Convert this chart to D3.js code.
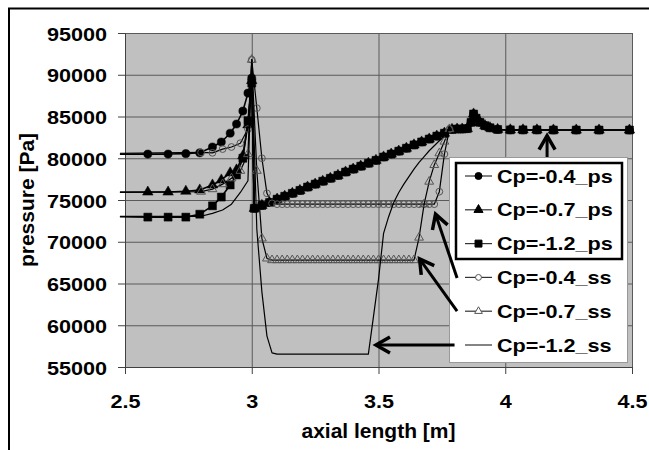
<!DOCTYPE html>
<html>
<head>
<meta charset="utf-8">
<script src="https://cdn.jsdelivr.net/npm/d3@7"></script>
<style>
body { margin: 0; background: #fff; }
svg { display: block; }
</style>
</head>
<body>
<div id="chart-area"></div>
<script>
// ---- data ----
var xTicks = [2.5, 3, 3.5, 4, 4.5];
var yTicks = [55000, 60000, 65000, 70000, 75000, 80000, 85000, 90000, 95000];

// pressure side: inlet part (own per Cp), blade + outlet part shared
var psInletX = [2.48, 2.59, 2.67, 2.74, 2.795, 2.845, 2.88, 2.915, 2.94, 2.965, 2.985, 3.0];
var cp04PsInlet = [80500, 80500, 80500, 80550, 80650, 81350, 81950, 83000, 84100, 85650, 87800, 89600];
var cp07PsInlet = [75950, 75950, 75950, 76050, 76200, 76800, 77400, 78250, 78600, 80300, 84000, 89300];
var cp12PsInlet = [73000, 72950, 72950, 72950, 73300, 74300, 75350, 76800, 78000, 80000, 84500, 89000];

var psBladeX = [3.01, 3.04, 3.07, 3.10, 3.13, 3.16, 3.19, 3.22, 3.25, 3.28, 3.31, 3.34, 3.37, 3.40,
                3.43, 3.46, 3.49, 3.52, 3.55, 3.58, 3.61, 3.64, 3.67, 3.70, 3.73, 3.76, 3.79];
var psBladeY = [74000, 74350, 74700, 75100, 75450, 75800, 76150, 76550, 76900, 77250, 77600, 77950, 78350, 78700,
                79050, 79400, 79750, 80150, 80500, 80850, 81200, 81600, 81950, 82300, 82650, 83000, 83450];
var psOutletX = [3.81, 3.83, 3.85, 3.865, 3.875, 3.885, 3.90, 3.92, 3.94, 3.97, 4.02, 4.07, 4.125, 4.19, 4.28, 4.37, 4.49];
var psOutletY = [83500, 83500, 83550, 84300, 85300, 84800, 84300, 83900, 83650, 83450, 83400, 83400, 83400, 83380, 83380, 83380, 83380];

// suction side
var ssInletX = [2.48, 2.80, 2.845, 2.885, 2.92, 2.955, 2.985, 3.0];
var cp04SsInlet = [80600, 80700, 80650, 81100, 81350, 81800, 83500, 91800];
var cp07SsInlet = [75900, 76000, 76300, 76900, 77600, 78500, 80500, 91800];
var cp12SsInlet = [73050, 73050, 73400, 73800, 74500, 75900, 77300, 91800];

var ssBladeX = [3.02, 3.04, 3.06, 3.08, 3.10, 3.12, 3.14, 3.16, 3.18, 3.20, 3.22, 3.24, 3.26,
                3.28, 3.30, 3.32, 3.34, 3.36, 3.38, 3.40, 3.42, 3.44, 3.46, 3.48, 3.50, 3.52,
                3.54, 3.56, 3.58, 3.60, 3.62, 3.64, 3.66, 3.68, 3.70, 3.72, 3.74, 3.76, 3.78];
var cp04SsBlade = [86000, 80000, 75800, 74600, 74500, 74500, 74500, 74500, 74500, 74500, 74500, 74500, 74500,
                   74500, 74500, 74500, 74500, 74500, 74500, 74500, 74500, 74500, 74500, 74500, 74500, 74500,
                   74500, 74500, 74500, 74500, 74500, 74500, 74500, 74500, 74500, 74500, 76000, 80500, 83500];
var cp07SsBlade = [78500, 70400, 68000, 67800, 67800, 67800, 67800, 67800, 67800, 67800, 67800, 67800, 67800,
                   67800, 67800, 67800, 67800, 67800, 67800, 67800, 67800, 67800, 67800, 67800, 67800, 67800,
                   67800, 67800, 67800, 67800, 67800, 67800, 70500, 74500, 77200, 79200, 80600, 82000, 83500];
var cp12SsBlade = [71500, 64000, 58700, 56700, 56550, 56550, 56550, 56550, 56550, 56550, 56550, 56550, 56550,
                   56550, 56550, 56550, 56550, 56550, 56550, 56550, 56550, 56550, 56550, 61000, 65500, 71000,
                   73000, 74700, 75900, 76900, 77800, 78700, 79500, 80200, 80900, 81500, 82100, 82700, 83500];

var seriesNames = ["Cp=-0.4_ps", "Cp=-0.7_ps", "Cp=-1.2_ps", "Cp=-0.4_ss", "Cp=-0.7_ss", "Cp=-1.2_ss"];

// arrows: [tailX, tailY, tipX, tipY] in data units
var arrows = [
    [4.165, 80150, 4.165, 82700],
    [3.81, 65660, 3.725, 73300],
    [3.81, 61700, 3.662, 67950],
    [3.80, 57630, 3.49, 57630]
];

// ---- layout ----
var W = 649, H = 450;
var plotL = 125, plotR = 632, plotT = 33, plotB = 367;
var stretch = "scale(1.2,1)";

var svg = d3.select("#chart-area").append("svg")
    .attr("width", W)
    .attr("height", H);

svg.append("rect")
    .attr("x", 9).attr("y", 8.5)
    .attr("width", 700).attr("height", 500)
    .attr("fill", "#fff")
    .attr("stroke", "#000")
    .attr("stroke-width", 2);

var x = d3.scaleLinear().domain([2.5, 4.5]).range([plotL, plotR]);
var y = d3.scaleLinear().domain([55000, 95000]).range([plotB, plotT]);

svg.append("rect")
    .attr("x", plotL).attr("y", plotT)
    .attr("width", plotR - plotL).attr("height", plotB - plotT)
    .attr("fill", "#c0c0c0");

// grid
svg.append("g")
    .attr("class", "grid")
    .attr("transform", "translate(" + plotL + ",0)")
    .call(d3.axisLeft(y).tickValues(yTicks).tickSize(-(plotR - plotL)).tickFormat(""))
    .call(function(g) {
        g.select(".domain").remove();
        g.selectAll("line").attr("stroke", "#5a5a5a");
    });
svg.append("g")
    .attr("class", "grid")
    .attr("transform", "translate(0," + plotB + ")")
    .call(d3.axisBottom(x).tickValues(xTicks).tickSize(-(plotB - plotT)).tickFormat(""))
    .call(function(g) {
        g.select(".domain").remove();
        g.selectAll("line").attr("stroke", "#5a5a5a");
    });

// axes
var yAxisCall = d3.axisLeft(y).tickValues(yTicks).tickSizeOuter(0).tickSize(7)
    .tickFormat(function(d) { return d; });
svg.append("g")
    .attr("class", "y axis")
    .attr("transform", "translate(" + plotL + ",0)")
    .call(yAxisCall)
    .call(function(g) {
        g.select(".domain").attr("stroke", "#404040");
        g.selectAll("line").attr("stroke", "#404040");
        g.selectAll("text")
            .attr("x", 0).attr("dy", 0)
            .attr("transform", "translate(-18,7) " + stretch)
            .attr("text-anchor", "end")
            .attr("font-family", "Liberation Sans, Arial, sans-serif")
            .attr("font-weight", "bold")
            .attr("font-size", "18px")
            .attr("fill", "#000");
    });

var xAxisCall = d3.axisBottom(x).tickValues(xTicks).tickSizeOuter(0).tickSize(7)
    .tickFormat(function(d) { return d; });
svg.append("g")
    .attr("class", "x axis")
    .attr("transform", "translate(0," + plotB + ")")
    .call(xAxisCall)
    .call(function(g) {
        g.select(".domain").attr("stroke", "#404040");
        g.selectAll("line").attr("stroke", "#404040");
        g.selectAll("text")
            .attr("y", 0).attr("dy", 0)
            .attr("transform", "translate(0,41) " + stretch)
            .attr("font-family", "Liberation Sans, Arial, sans-serif")
            .attr("font-weight", "bold")
            .attr("font-size", "18px")
            .attr("fill", "#000");
    });

svg.append("text")
    .attr("x", (plotL + plotR) / 2)
    .attr("y", 438)
    .attr("text-anchor", "middle")
    .attr("font-family", "Liberation Sans, Arial, sans-serif")
    .attr("font-weight", "bold")
    .attr("font-size", "21px")
    .text("axial length [m]");

svg.append("text")
    .attr("transform", "translate(34," + ((plotT + plotB) / 2) + ") rotate(-90)")
    .attr("text-anchor", "middle")
    .attr("font-family", "Liberation Sans, Arial, sans-serif")
    .attr("font-weight", "bold")
    .attr("font-size", "21px")
    .text("pressure [Pa]");

// ---- series ----
function zip(xs, ys) {
    return xs.map(function(v, i) { return { x: v, y: ys[i] }; });
}

var series = [
    { name: seriesNames[0], data: zip(psInletX.concat(psBladeX, psOutletX), cp04PsInlet.concat(psBladeY, psOutletY)), shape: d3.symbolCircle, size: 52, filled: true, width: 1.6 },
    { name: seriesNames[1], data: zip(psInletX.concat(psBladeX, psOutletX), cp07PsInlet.concat(psBladeY, psOutletY)), shape: d3.symbolTriangle, size: 48, filled: true, width: 1.6 },
    { name: seriesNames[2], data: zip(psInletX.concat(psBladeX, psOutletX), cp12PsInlet.concat(psBladeY, psOutletY)), shape: d3.symbolSquare, size: 64, filled: true, width: 1.6 },
    { name: seriesNames[3], data: zip(ssInletX.concat(ssBladeX), cp04SsInlet.concat(cp04SsBlade)), shape: d3.symbolCircle, size: 36, filled: false, width: 1.2 },
    { name: seriesNames[4], data: zip(ssInletX.concat(ssBladeX), cp07SsInlet.concat(cp07SsBlade)), shape: d3.symbolTriangle, size: 34, filled: false, width: 1.2 },
    { name: seriesNames[5], data: zip(ssInletX.concat(ssBladeX), cp12SsInlet.concat(cp12SsBlade)), shape: null, size: 0, filled: false, width: 1.2 }
];

var line = d3.line()
    .x(function(d) { return x(d.x); })
    .y(function(d) { return y(d.y); });

series.forEach(function(s) {
    var sg = svg.append("g").attr("class", "series");
    sg.append("path")
        .attr("d", line(s.data))
        .attr("fill", "none")
        .attr("stroke", "#000")
        .attr("stroke-width", s.width)
        .attr("stroke-linejoin", "round");
    if (s.shape) {
        sg.selectAll("path.mark")
            .data(s.data.filter(function(d) { return d.x >= 2.5; }))
            .enter()
            .append("path")
            .attr("class", "mark")
            .attr("transform", function(d) { return "translate(" + x(d.x) + "," + y(d.y) + ")"; })
            .attr("d", d3.symbol().type(s.shape).size(s.size))
            .attr("fill", s.filled ? "#000" : "none")
            .attr("stroke", s.filled ? "#000" : "#555")
            .attr("stroke-width", s.filled ? 0.5 : 1);
    }
});

// ---- legend ----
var lg = svg.append("g").attr("class", "legend");
lg.append("rect")
    .attr("x", 449.5).attr("y", 157.5)
    .attr("width", 178).attr("height", 205)
    .attr("fill", "#fff")
    .attr("stroke", "#999");
lg.append("rect")
    .attr("x", 456).attr("y", 163)
    .attr("width", 166).attr("height", 96)
    .attr("fill", "none")
    .attr("stroke", "#000")
    .attr("stroke-width", 2.5);

var legendY = d3.scalePoint().domain(seriesNames).range([176, 345]);

series.forEach(function(s) {
    var cy = legendY(s.name);
    lg.append("line")
        .attr("x1", 465).attr("x2", 492)
        .attr("y1", cy).attr("y2", cy)
        .attr("stroke", "#333")
        .attr("stroke-width", 1.2);
    if (s.shape) {
        lg.append("path")
            .attr("transform", "translate(478.5," + cy + ")")
            .attr("d", d3.symbol().type(s.shape).size(s.size * 0.75))
            .attr("fill", s.filled ? "#000" : "#fff")
            .attr("stroke", s.filled ? "#000" : "#555");
    }
    lg.append("text")
        .attr("transform", "translate(497," + (cy + 6.5) + ") " + stretch)
        .attr("font-family", "Liberation Sans, Arial, sans-serif")
        .attr("font-weight", "bold")
        .attr("font-size", "18px")
        .text(s.name);
});

// ---- arrows ----
svg.append("defs").append("marker")
    .attr("id", "head")
    .attr("markerUnits", "userSpaceOnUse")
    .attr("viewBox", "-18 -11 22 22")
    .attr("refX", 0).attr("refY", 0)
    .attr("markerWidth", 22).attr("markerHeight", 22)
    .attr("orient", "auto")
    .append("path")
    .attr("d", "M-14,-8 L0,0 L-14,8")
    .attr("fill", "none")
    .attr("stroke", "#000")
    .attr("stroke-width", 3.5);

svg.append("g").attr("class", "arrows")
    .selectAll("line")
    .data(arrows)
    .enter()
    .append("line")
    .attr("x1", function(d) { return x(d[0]); })
    .attr("y1", function(d) { return y(d[1]); })
    .attr("x2", function(d) { return x(d[2]); })
    .attr("y2", function(d) { return y(d[3]); })
    .attr("stroke", "#000")
    .attr("stroke-width", 3)
    .attr("marker-end", "url(#head)");
</script>
</body>
</html>
